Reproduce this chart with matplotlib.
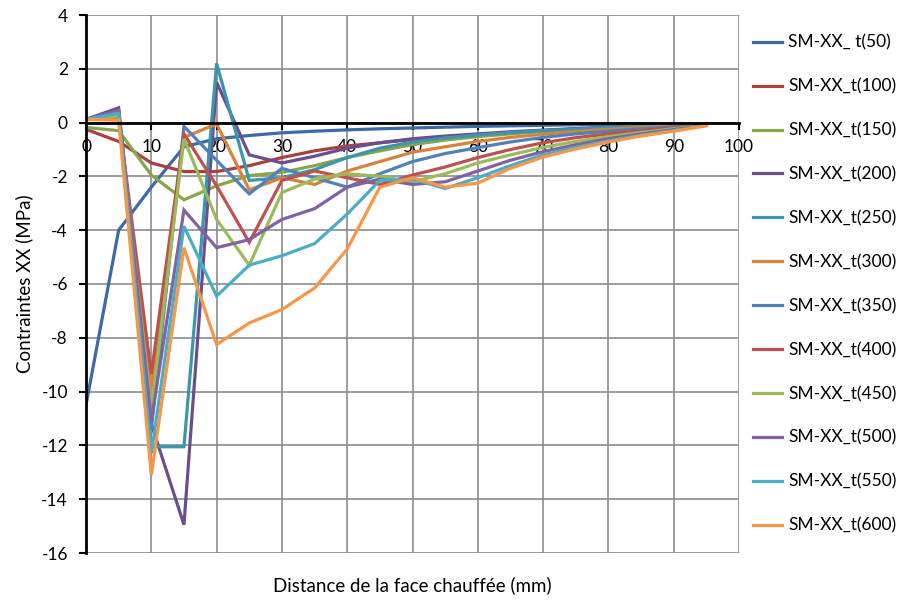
import numpy as np
import matplotlib
matplotlib.use("Agg")
import matplotlib.pyplot as plt

plt.rcParams['font.family'] = ['Lato', 'DejaVu Sans']
plt.rcParams['axes.unicode_minus'] = False

# distance from heated face (mm)
distance = [0, 5, 10, 15, 20, 25, 30, 35, 40, 45, 50, 55, 60, 65, 70, 75, 80, 85, 90, 95]

labels = ["SM-XX_ t(50)", "SM-XX_t(100)", "SM-XX_t(150)", "SM-XX_t(200)",
          "SM-XX_t(250)", "SM-XX_t(300)", "SM-XX_t(350)", "SM-XX_t(400)",
          "SM-XX_t(450)", "SM-XX_t(500)", "SM-XX_t(550)", "SM-XX_t(600)"]

t50 = [-10.5, -4.0, -2.4, -0.9, -0.6, -0.48, -0.38, -0.32, -0.27, -0.23, -0.2, -0.17,
       -0.14, -0.12, -0.1, -0.08, -0.07, -0.06, -0.05, -0.04]
t100 = [-0.25, -0.7, -1.5, -1.82, -1.82, -1.6, -1.3, -1.05, -0.87, -0.75, -0.63, -0.53,
        -0.45, -0.37, -0.3, -0.24, -0.19, -0.14, -0.1, -0.06]
t150 = [-0.18, -0.3, -1.95, -2.87, -2.35, -1.97, -1.85, -1.6, -1.3, -1.05, -0.82, -0.65,
        -0.52, -0.42, -0.33, -0.26, -0.2, -0.15, -0.1, -0.06]
t200 = [0.12, 0.55, -11.2, -14.95, 1.5, -1.2, -1.5, -1.25, -0.95, -0.75, -0.6, -0.5,
        -0.42, -0.34, -0.28, -0.22, -0.17, -0.13, -0.09, -0.05]
t250 = [0.12, 0.42, -12.05, -12.05, 2.2, -2.15, -2.05, -1.75, -1.3, -0.95, -0.72, -0.57,
        -0.46, -0.37, -0.3, -0.24, -0.18, -0.13, -0.09, -0.05]
t300 = [0.12, 0.1, -10.0, -0.55, -0.05, -2.5, -2.05, -2.3, -1.8, -1.45, -1.1, -0.9,
        -0.7, -0.55, -0.43, -0.33, -0.25, -0.18, -0.12, -0.07]
t350 = [0.12, 0.3, -11.4, -0.14, -1.4, -2.65, -1.7, -2.05, -2.4, -1.9, -1.45, -1.15,
        -0.93, -0.72, -0.55, -0.42, -0.32, -0.23, -0.15, -0.08]
t400 = [0.12, 0.2, -9.35, -0.42, -2.35, -4.45, -2.15, -1.8, -2.05, -2.3, -1.95, -1.65,
        -1.3, -1.0, -0.75, -0.56, -0.42, -0.3, -0.19, -0.09]
t450 = [0.12, 0.25, -10.7, -0.6, -3.6, -5.3, -2.6, -2.1, -1.9, -2.0, -2.2, -1.9,
        -1.5, -1.2, -0.92, -0.7, -0.52, -0.37, -0.23, -0.1]
t500 = [0.12, 0.45, -11.1, -3.25, -4.65, -4.35, -3.6, -3.2, -2.4, -2.1, -2.3, -2.2,
        -1.8, -1.4, -1.08, -0.82, -0.6, -0.42, -0.26, -0.1]
t550 = [0.12, 0.35, -12.3, -3.85, -6.45, -5.3, -4.95, -4.5, -3.4, -2.15, -2.1, -2.45,
        -2.05, -1.6, -1.2, -0.92, -0.68, -0.47, -0.3, -0.1]
t600 = [0.12, 0.1, -13.1, -4.65, -8.25, -7.45, -6.95, -6.15, -4.7, -2.4, -2.05, -2.4,
        -2.25, -1.7, -1.28, -0.98, -0.72, -0.5, -0.32, -0.12]

series = [t50, t100, t150, t200, t250, t300, t350, t400, t450, t500, t550, t600]
colors = ['#3C6AA6', '#A8413F', '#87A54A', '#6A4E8F', '#3A96AD', '#D9823A',
          '#4F81BD', '#C0504D', '#9BBB59', '#8064A2', '#4BACC6', '#F79646']

fig = plt.figure(figsize=(9.05, 6.08), dpi=100)
ax = fig.add_axes([86/905, 1 - 553/608, (739 - 86)/905, (553 - 15)/608])

for vals, lab, c in zip(series, labels, colors):
    ax.plot(distance, vals, color=c, lw=2.3, label=lab, solid_joinstyle='miter')

ax.set_xlim(0, 100)
ax.set_ylim(-16, 4)
ax.set_xticks(np.arange(0, 101, 10))
ax.set_yticks(np.arange(-16, 5, 2))
ax.grid(True, color='#8c8c8c', lw=1.2)
ax.set_axisbelow(True)

for s in ['top', 'right']:
    ax.spines[s].set_visible(False)
ax.spines['bottom'].set_position(('data', 0))
ax.spines['bottom'].set_linewidth(2)
ax.spines['left'].set_linewidth(2)
ax.tick_params(axis='both', direction='out', length=5, width=1.5, labelsize=12.5, colors='black')
ax.tick_params(axis='x', pad=7)
ax.tick_params(axis='y', pad=8)

ax.set_ylabel("Contraintes XX (MPa)", fontsize=13.5, labelpad=6)
fig.text(412/905, 1 - 585/608, "Distance de la face chauffée (mm)", fontsize=13.5,
         ha='center', va='center')

fig.legend(loc='upper left', bbox_to_anchor=(744/905, 1 - 26/608), frameon=False,
           fontsize=12.5, handlelength=1.7, handletextpad=0.35, labelspacing=1.6,
           borderpad=0)

fig.savefig("out.png", dpi=100)
